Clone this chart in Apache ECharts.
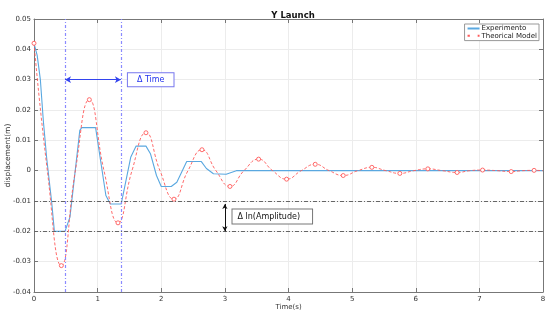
<!DOCTYPE html>
<html>
<head>
<meta charset="utf-8">
<script src="https://cdn.jsdelivr.net/npm/echarts@6/dist/echarts.min.js"></script>
<style>
  html, body { margin: 0; padding: 0; background: #fff; }
  #chartCon { width: 550px; height: 314px; }
</style>
</head>
<body>
<div id="chartCon"></div>
<script>
// measured experiment trace (piecewise)
const expT = [0, 0.05, 0.10, 0.146, 0.20, 0.278, 0.32, 0.487, 0.565, 0.72, 0.75, 0.968, 1.13, 1.20, 1.37, 1.52, 1.605, 1.76, 1.83, 1.925, 2.0, 2.157, 2.245, 2.40, 2.63, 2.71, 2.82, 3.02, 3.18, 8.0]
const expY = [0.042, 0.038, 0.030, 0.0166, 0.004, -0.0104, -0.020, -0.020, -0.0153, 0.0133, 0.0142, 0.0142, -0.0082, -0.011, -0.011, 0.0044, 0.0081, 0.0081, 0.0056, -0.0016, -0.0052, -0.0052, -0.0038, 0.003, 0.003, 0.0007, -0.001, -0.0012, 0, 0]

// theoretical model: extrema (marked) alternating with crossings
const modelT = [0, 0.21, 0.43, 0.65, 0.87, 1.10, 1.32, 1.54, 1.76, 1.98, 2.20, 2.42, 2.64, 2.86, 3.08, 3.30, 3.53, 3.75, 3.97, 4.20, 4.42, 4.64, 4.86, 5.09, 5.31, 5.53, 5.75, 5.97, 6.19, 6.42, 6.65, 6.85, 7.05, 7.28, 7.50, 7.68, 7.86, 8.0]
const modelY = [0.042, 0, -0.0313, 0, 0.0234, 0, -0.0172, 0, 0.0125, 0, -0.0094, 0, 0.0069, 0, -0.0052, 0, 0.0038, 0, -0.0028, 0, 0.0021, 0, -0.0016, 0, 0.0011, 0, -0.0009, 0, 0.0006, 0, -0.0006, 0, 0.0002, 0, -0.0003, 0, 0.0001, 0]

const periodLines = [0.487, 1.366]      // Δ Time markers
const ampLines = [-0.011, -0.020]       // Δ ln(Amplitude) markers
const timeArrowY = 0.03
const ampArrowT = 3

const chart = echarts.init(document.getElementById('chartCon'))
const font = 'DejaVu Sans'

const expData = expT.map((t, i) => [t, expY[i]])
const modelData = modelT.map((t, i) => ({
  value: [t, modelY[i]],
  symbol: (i % 2 === 0 && i < modelT.length - 1) ? 'circle' : 'none'
}))

chart.setOption({
  animation: false,
  title: {
    text: 'Y Launch',
    left: 288, top: 6, textAlign: 'center',
    textStyle: { fontFamily: font, fontSize: 8.5, fontWeight: 'bold', color: '#111' }
  },
  legend: {
    data: [
      { name: 'Experimento', itemStyle: { opacity: 0 } },
      { name: 'Theorical Model' }
    ],
    orient: 'vertical',
    right: 11, top: 24,
    itemWidth: 12, itemHeight: 7, itemGap: 0,
    padding: [1, 2, 1, 2],
    borderColor: '#999', borderWidth: 1,
    backgroundColor: '#fff',
    textStyle: { fontFamily: font, fontSize: 7, color: '#222', padding: [0, 0, 0, -3] }
  },
  grid: { left: 34, right: 7, top: 19, bottom: 22, outerBoundsMode: 'none', containLabel: false },
  xAxis: [{
    type: 'value', min: 0, max: 8, interval: 1,
    name: 'Time(s)', nameLocation: 'middle', nameGap: 15, nameMoveOverlap: false,
    nameTextStyle: { fontFamily: font, fontSize: 7, color: '#333', verticalAlign: 'middle' },
    axisLine: { onZero: false, lineStyle: { color: '#777' } },
    axisTick: { inside: true, length: 4, lineStyle: { color: '#777' } },
    axisLabel: { fontFamily: font, fontSize: 7, color: '#333', margin: 4 },
    splitLine: { lineStyle: { color: '#ececec' } }
  }, {
    type: 'value', min: 0, max: 8, interval: 1, position: 'top',
    axisLine: { show: true, onZero: false, lineStyle: { color: '#777' } },
    axisTick: { inside: true, length: 4, lineStyle: { color: '#777' } },
    axisLabel: { show: false }, splitLine: { show: false }
  }],
  yAxis: [{
    type: 'value', min: -0.04, max: 0.05, interval: 0.01,
    name: 'displacement(m)', nameLocation: 'middle', nameGap: 26, nameMoveOverlap: false,
    nameTextStyle: { fontFamily: font, fontSize: 7.5, color: '#333', verticalAlign: 'middle' },
    axisLine: { show: true, onZero: false, lineStyle: { color: '#777' } },
    axisTick: { show: true, inside: true, length: 4, lineStyle: { color: '#777' } },
    axisLabel: {
      fontFamily: font, fontSize: 7, color: '#333', margin: 3,
      formatter: v => Math.abs(v) < 1e-9 ? '0' : v.toFixed(2)
    },
    splitLine: { lineStyle: { color: '#ececec' } }
  }, {
    type: 'value', min: -0.04, max: 0.05, interval: 0.01, position: 'right',
    axisLine: { show: true, onZero: false, lineStyle: { color: '#777' } },
    axisTick: { show: true, inside: true, length: 4, lineStyle: { color: '#777' } },
    axisLabel: { show: false }, splitLine: { show: false }
  }],
  series: [
    {
      name: 'annotations',
      type: 'line',
      data: [],
      silent: true,
      markLine: {
        silent: true,
        symbol: 'none',
        label: { show: false },
        data: [
          ...periodLines.map(t => ({ xAxis: t, lineStyle: { color: '#8a8aff', width: 1.2, type: [3, 2, 1, 2] } })),
          ...ampLines.map(v => ({ yAxis: v, lineStyle: { color: '#666', width: 1, type: [4, 2, 1, 2] } })),
          [
            { coord: [periodLines[0], timeArrowY], symbol: 'arrow', symbolSize: [5, 6] },
            { coord: [periodLines[1], timeArrowY], symbol: 'arrow', symbolSize: [5, 6], lineStyle: { color: '#3344ee', width: 1, type: 'solid' } }
          ],
          [
            { coord: [ampArrowT, ampLines[0]], symbol: 'arrow', symbolSize: [4, 5] },
            { coord: [ampArrowT, ampLines[1]], symbol: 'arrow', symbolSize: [4, 5], lineStyle: { color: '#111', width: 1, type: 'solid' } }
          ]
        ]
      },
      markPoint: {
        silent: true,
        symbol: 'circle', symbolSize: 0,
        data: [
          {
            coord: [1.476, timeArrowY],
            label: {
              show: true, position: 'right', distance: 0,
              formatter: 'Δ Time',
              fontFamily: font, fontSize: 8, color: '#2233ee',
              backgroundColor: '#fff', borderColor: '#7777ee', borderWidth: 1,
              padding: [3, 9, 2, 9]
            }
          },
          {
            coord: [3.12, -0.0151],
            label: {
              show: true, position: 'right', distance: 0,
              formatter: 'Δ ln(Amplitude)',
              fontFamily: font, fontSize: 8, color: '#111',
              backgroundColor: '#fff', borderColor: '#777', borderWidth: 1,
              padding: [3, 12, 3, 5]
            }
          }
        ]
      }
    },
    {
      name: 'Experimento',
      type: 'line',
      data: expData,
      showSymbol: false,
      symbol: 'none',
      lineStyle: { color: '#5aa8e0', width: 1.1 },
      itemStyle: { color: '#5aa8e0' },
      z: 3
    },
    {
      name: 'Theorical Model',
      type: 'line',
      data: modelData,
      smooth: 0.5,
      symbolSize: 4,
      lineStyle: { color: '#ff5a5a', width: 0.9, type: [3, 2] },
      itemStyle: { color: '#fff', borderColor: '#ff5a5a', borderWidth: 0.9 },
      z: 4
    }
  ]
})
</script>
</body>
</html>
